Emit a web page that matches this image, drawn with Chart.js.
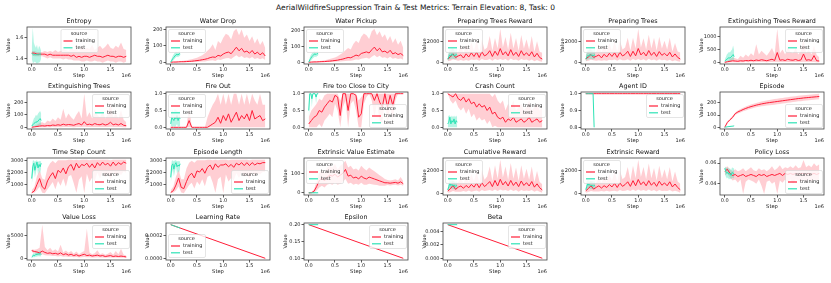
<!DOCTYPE html>
<html>
<head>
<meta charset="utf-8">
<script src="https://cdn.jsdelivr.net/npm/chart.js@4.4.0/dist/chart.umd.min.js"></script>
<style>
  body { margin: 0; background: #fff; width: 831px; height: 283px; overflow: hidden; position: relative; font-family: "DejaVu Sans", sans-serif; }
  #title { position: absolute; left: 0; width: 831px; top: 3px; text-align: center; font-size: 7.5px; color: #111; }
  canvas { position: absolute; }
</style>
</head>
<body>
<div id="title">AerialWildfireSuppression Train &amp; Test Metrics: Terrain Elevation: 8, Task: 0</div>
<script>
// steps are in units of 1e6
const STEPS = [0,0.05,0.1,0.15,0.2,0.25,0.3,0.35,0.4,0.45,0.5,0.55,0.6,0.65,0.7,0.75,0.8,0.85,0.9,0.95,1.0,1.05,1.1,1.15,1.2,1.25,1.3,1.35,1.4,1.45,1.5,1.55,1.6,1.65,1.7,1.75,1.8];
const TEST_STEPS = [0,0.02,0.04,0.06,0.08,0.1,0.12,0.14,0.16,0.18];
const LINE_STEPS = [0, 1.8];
const LINE_TEST_STEPS = [0, 0.18];
const X_TICKS = [0, 0.5, 1.0, 1.5];

// Entropy
const entropyMean = [1.45,1.45,1.44,1.44,1.44,1.44,1.43,1.44,1.43,1.43, 1.43,1.43,1.43,1.43,1.43,1.42,1.43,1.41,1.42,1.41, 1.42,1.42,1.41,1.42,1.43,1.42,1.42,1.41,1.42,1.43, 1.42,1.42,1.41,1.42,1.42,1.41,1.42];
const entropyHi = [1.47,1.47,1.46,1.46,1.46,1.47,1.46,1.47,1.46,1.48, 1.46,1.47,1.49,1.48,1.47,1.50,1.48,1.49,1.47,1.52, 1.48,1.50,1.49,1.53,1.48,1.50,1.52,1.49,1.51,1.54, 1.50,1.49,1.52,1.50,1.55,1.49,1.48];
const entropyLo = [1.43,1.42,1.42,1.42,1.42,1.41,1.40,1.41,1.40,1.40, 1.40,1.40,1.39,1.40,1.39,1.39,1.38,1.38,1.38,1.37, 1.37,1.38,1.37,1.37,1.38,1.37,1.37,1.36,1.37,1.38, 1.37,1.37,1.36,1.37,1.37,1.36,1.37];
const entropyTest = [1.45,1.44,1.43,1.44,1.43,1.44,1.43,1.44,1.44,1.44];
const entropyTestHi = [1.50,1.69,1.55,1.52,1.50,1.53,1.48,1.52,1.50,1.47];
const entropyTestLo = [1.40,1.36,1.36,1.37,1.36,1.35,1.36,1.36,1.37,1.40];

// Water Drop
const waterDropMean = [0,1,1,2,3,3,4,5,6,8, 10,12,15,18,22,28,32,30,42,38, 50,58,62,52,72,92,70,85,62,68, 55,72,50,62,45,58,38];
const waterDropHi = [1,3,4,6,8,9,12,15,18,22, 28,35,42,55,70,85,110,75,130,115, 150,175,165,140,190,205,165,200,150,170, 130,160,115,145,105,130,85];
const waterDropLo = [0,0,0,0,0,0,0,1,1,2, 2,3,4,5,7,10,12,8,16,14, 20,24,26,20,32,42,30,38,26,30, 22,32,20,26,18,24,14];
const waterDropTest = [0,12,22,30,38,45,48,44,52,50];
const waterDropTestHi = [2,25,40,50,58,65,62,60,68,64];
const waterDropTestLo = [0,2,8,15,22,30,34,30,38,36];

// Water Pickup
const waterPickupMean = [0,1,2,2,3,4,4,6,7,9, 11,13,17,20,25,30,28,36,45,40, 55,60,65,58,78,95,72,88,65,70, 58,75,52,60,48,55,42];
const waterPickupHi = [1,3,5,7,8,10,13,16,20,25, 30,38,48,60,75,90,80,115,135,120, 160,180,170,145,195,210,170,195,155,175, 135,165,120,150,110,135,90];
const waterPickupLo = [0,0,0,0,0,0,1,1,2,2, 3,4,5,6,8,10,9,12,17,15, 22,25,28,22,34,45,32,40,28,32, 24,34,22,26,20,24,16];
const waterPickupTest = [0,15,25,35,42,50,52,48,55,52];
const waterPickupTestHi = [2,30,45,55,62,70,68,64,72,66];
const waterPickupTestLo = [0,3,10,18,25,32,36,32,40,38];

// Preparing Trees Reward
const prepRewardMean = [300,500,800,450,600,700,400,800,500,900, 550,950,450,1000,600,750,1100,550,1050,650, 1300,700,1000,600,1200,650,950,550,1100,650, 900,600,1000,500,850,450,300];
const prepRewardHi = [600,1100,1300,900,1000,1500,900,1700,1000,1900, 1100,2100,1000,2200,1200,1400,2500,1100,2300,1300, 3200,1400,2400,1200,2800,1300,2300,1100,2600,1300, 2200,1200,2500,1000,2000,1000,900];
const prepRewardLo = [100,150,250,200,150,200,150,200,150,250, 200,250,150,300,200,200,300,150,300,200, 300,200,300,150,350,200,250,150,300,200, 250,150,250,100,200,100,50];
const prepRewardTest = [300,500,700,600,800,650,700,600,750,650];
const prepRewardTestHi = [600,1000,1300,1200,1400,1200,1300,1100,1300,1200];
const prepRewardTestLo = [100,200,300,250,350,300,300,250,350,300];

// Preparing Trees
const prepTreesMean = [320,520,760,480,580,720,430,780,520,880, 570,930,480,980,620,770,1080,570,1080,630, 1350,720,980,620,1150,680,980,570,1050,680, 880,620,980,520,820,480,320];
const prepTreesHi = [650,1150,1250,950,1050,1550,950,1650,1050,1850, 1150,2050,1050,2150,1250,1450,2400,1150,2400,1350, 3300,1450,2350,1250,2700,1350,2400,1150,2500,1350, 2100,1250,2400,1050,1900,1050,950];
const prepTreesLo = [110,160,240,210,160,210,160,210,160,240, 210,260,160,290,210,210,290,160,310,210, 310,210,290,160,340,210,260,160,290,210, 240,160,240,110,210,110,60];
const prepTreesTest = [320,520,680,620,780,670,720,620,730,670];
const prepTreesTestHi = [620,1050,1280,1220,1380,1220,1280,1120,1280,1220];
const prepTreesTestLo = [110,210,290,260,340,310,290,260,340,310];

// Extinguishing Trees Reward
const extRewardMean = [0,20,40,60,50,40,60,50,70,60, 80,60,90,70,100,80,60,90,120,70, 380,80,100,70,120,90,80,110,70,90, 320,80,100,70,260,60,50];
const extRewardHi = [0,60,120,200,160,120,250,180,300,220, 350,250,700,300,450,350,250,400,550,300, 1300,350,500,300,600,400,350,550,300,450, 900,350,500,300,650,280,200];
const extRewardLo = [0,0,0,5,5,0,5,5,10,5, 10,5,10,10,15,10,5,10,15,10, 20,10,15,10,15,10,10,15,10,15, 20,10,15,10,15,5,5];
const extRewardTest = [50,80,120,150,180,160,200,250,300,220];
const extRewardTestHi = [100,200,300,350,400,380,450,500,650,450];
const extRewardTestLo = [0,10,30,40,50,40,60,80,100,60];

// Extinguishing Trees
const extTreesMean = [0,3,6,10,12,10,14,12,18,15, 20,16,25,18,22,20,16,24,30,18, 45,20,25,18,30,22,20,28,18,24, 40,20,26,18,30,16,12];
const extTreesHi = [0,10,20,35,40,30,55,45,70,50, 80,60,150,70,110,80,60,100,130,70, 270,80,120,70,150,100,80,130,70,100, 200,80,110,70,140,60,40];
const extTreesLo = [0,0,0,1,1,0,1,1,2,1, 2,1,2,2,3,2,1,2,3,2, 4,2,3,2,3,2,2,3,2,3, 4,2,3,2,3,1,1];
const extTreesTest = [10,20,30,35,45,40,50,60,70,55];
const extTreesTestHi = [20,45,70,80,100,90,110,120,130,110];
const extTreesTestLo = [0,2,5,8,10,8,12,15,20,12];

// Fire Out
const fireOutMean = [0,0,0,0,0,0,0,0.2,0,0, 0,0,0,0,0,0.05,0.1,0.15,0.3,0.12, 0.35,0.2,0.4,0.15,0.3,0.45,0.2,0.35,0.25,0.4, 0.2,0.5,0.25,0.3,0.35,0.2,0.25];
const fireOutHi = [0,0,0,0,0,0,0,0.65,0,0, 0,0,0,0,0.3,0.5,0.67,0.8,1.0,0.67, 1.0,0.67,1.0,0.67,1.0,1.0,0.67,1.0,0.67,1.0, 0.67,1.0,0.8,0.67,1.0,0.67,0.67];
const fireOutLo = [0,0,0,0,0,0,0,0,0,0, 0,0,0,0,0,0,0,0,0,0, 0,0,0,0,0,0,0,0,0,0, 0,0,0,0,0,0,0];
const fireOutTest = [0.1,0.3,0.25,0.2,0.3,0.25,0.35,0.2,0.3,0.25];
const fireOutTestHi = [0.3,0.5,0.5,0.45,0.55,0.5,0.5,0.45,0.5,0.45];
const fireOutTestLo = [0,0.05,0,0.05,0,0.05,0.1,0,0.05,0];

// Fire too Close to City
const fireCloseMean = [0.1,0.2,0.3,0.35,0.5,0.45,0.6,0.7,0.8,0.75, 0.95,0.9,0.35,1.0,1.0,0.5,1.0,1.0,0.95,0.3, 0.4,1.0,1.0,1.0,1.0,0.8,1.0,0.75,0.6,1.0, 0.6,0.95,0.65,1.0,1.0,1.0,1.0];
const fireCloseHi = [0.3,0.5,0.6,0.7,0.85,0.8,0.95,1.0,1.0,1.0, 1.0,1.0,0.8,1.0,1.0,1.0,1.0,1.0,1.0,0.8, 0.9,1.0,1.0,1.0,1.0,1.0,1.0,1.0,1.0,1.0, 1.0,1.0,1.0,1.0,1.0,1.0,1.0];
const fireCloseLo = [0,0,0,0,0.1,0,0.2,0.3,0.4,0.3, 0.7,0.5,0,0.6,0.8,0,0.7,0.8,0.5,0, 0,0.7,0.9,1.0,0.8,0.3,0.7,0.2,0.1,0.8, 0.1,0.6,0.2,0.8,1.0,1.0,1.0];
const fireCloseTest = [0.5,1.0,1.0,0.85,1.0,1.0,1.0,0.9,1.0,1.0];
const fireCloseTestHi = [1.0,1.0,1.0,1.0,1.0,1.0,1.0,1.0,1.0,1.0];
const fireCloseTestLo = [0,1.0,1.0,0.6,1.0,1.0,1.0,0.7,1.0,1.0];

// Crash Count
const crashMean = [1.0,0.95,0.9,1.0,0.85,0.8,0.9,0.75,0.85,0.7, 0.75,0.6,0.7,0.6,0.65,0.5,0.6,0.4,0.45,0.3, 0.25,0.3,0.15,0.25,0.2,0.3,0.15,0.2,0.25,0.15, 0.2,0.3,0.15,0.2,0.25,0.15,0.2];
const crashHi = [1.0,1.0,1.0,1.0,1.0,1.0,1.0,1.0,1.0,1.0, 1.0,1.0,1.0,1.0,1.0,1.0,1.0,0.9,1.0,0.8, 0.7,0.8,0.5,0.7,0.6,0.8,0.5,0.6,0.7,0.5, 0.6,0.8,0.5,0.6,0.7,0.5,0.6];
const crashLo = [1.0,0.8,0.7,0.8,0.6,0.5,0.6,0.4,0.55,0.3, 0.4,0.2,0.3,0.2,0.25,0.1,0.2,0,0.05,0, 0,0,0,0,0,0,0,0,0,0, 0,0,0,0,0,0,0];
const crashTest = [0.1,0.15,0.3,0.1,0.2,0.15,0.25,0.1,0.2,0.15];
const crashTestHi = [0.3,0.35,0.35,0.3,0.35,0.3,0.35,0.3,0.35,0.3];
const crashTestLo = [0,0,0,0,0,0,0,0,0,0];

// Agent ID
const agentMean = [1,1,1,1,1,1,1,1,1,1, 1,1,1,1,1,1,1,1,1,1, 1,1,1,1,1,1,1,1,1,1, 1,1,1,1,1,1,1];
const agentTest = [1,1,1,1,1,1,1,1,0.8,null];

// Episode
const episodeMean = [0,40,62,82,112,126,136,146,155,163, 170,176,182,187,192,196,200,203,206,209, 212,215,218,221,224,227,230,233,236,238, 241,243,245,247,249,251,253];
const episodeHi = [0,48,70,92,122,138,150,161,171,180, 187,194,200,206,211,216,220,224,228,232, 235,238,241,244,247,250,253,256,259,261, 264,266,268,270,272,274,276];
const episodeLo = [0,32,54,72,102,114,122,131,139,146, 153,158,164,168,173,176,180,182,184,186, 189,192,195,198,201,204,207,210,213,215, 218,220,222,224,226,228,230];
const episodeTest = [0,2,3,5,6,7,8,9,10,12];
const episodeTestHi = [0,3,4,6,7,8,9,10,11,13];
const episodeTestLo = [0,1,2,4,5,6,7,8,9,11];

// Time Step Count
const timeStepMean = [300,450,1000,1500,800,600,1300,1700,2000,1500, 2200,2000,2400,1900,2500,2700,2200,2800,2400,2700, 2600,2800,2450,2750,2400,2850,2600,2900,2650,2800, 2550,2900,2600,2850,2700,2900,2800];
const timeStepHi = [500,800,1700,2200,1500,1400,2400,2800,3000,2800, 3050,3050,3050,3050,3100,3100,3050,3100,3050,3100, 3100,3100,3050,3100,3100,3100,3100,3100,3100,3100, 3050,3100,3100,3100,3100,3100,3100];
const timeStepLo = [250,300,500,800,300,250,600,900,1200,600, 1300,900,1500,800,1700,1800,1100,300,1400,1700, 250,1900,1200,1600,1300,2000,1500,2100,1600,1900, 1400,2100,1700,2000,1800,2100,2000];
const timeStepTest = [1500,2500,2800,2200,2600,2900,2400,2700,2500,2800];
const timeStepTestHi = [2200,3000,3050,2900,3000,3050,2900,3000,2950,3000];
const timeStepTestLo = [900,1800,2300,1600,2000,2600,1800,2200,1900,2400];

// Episode Length
const epLenMean = [320,480,950,1550,750,650,1250,1750,1950,1550, 2150,2050,2350,1950,2450,2650,2250,2750,2450,2650, 2650,2750,2500,2700,2450,2800,2650,2850,2600,2850, 2600,2850,2650,2800,2750,2850,2850];
const epLenHi = [520,820,1650,2250,1450,1450,2350,2850,3000,2850, 3050,3050,3050,3050,3100,3100,3050,3100,3050,3100, 3100,3100,3050,3100,3100,3100,3100,3100,3100,3100, 3050,3100,3100,3100,3100,3100,3100];
const epLenLo = [250,320,480,850,320,260,620,950,1150,650, 1250,950,1450,850,1650,1750,1150,300,1450,1650, 260,1850,1250,1550,1350,1950,1550,2050,1650,1850, 1450,2050,1750,1950,1850,2050,2050];
const epLenTest = [1600,2600,2750,2300,2700,2850,2500,2650,2550,2750];
const epLenTestHi = [2300,3000,3050,2950,3050,3050,2950,3000,2950,3000];
const epLenTestLo = [1000,1900,2250,1700,2100,2550,1900,2150,2000,2350];

// Extrinsic Value Estimate
const valueEstMean = [-3,-2,5,30,60,75,60,80,90,85, 95,80,90,100,120,85,90,75,80,70, 85,75,70,80,75,70,65,60,55,50, 50,48,50,52,48,55,45];
const valueEstHi = [0,2,15,55,100,120,100,130,140,130, 150,120,140,150,165,130,140,120,125,115, 140,125,115,130,120,110,100,90,80,70, 65,62,65,68,62,80,58];
const valueEstLo = [-5,-5,-3,10,25,35,25,40,45,40, 50,40,45,55,70,45,50,40,45,40, 50,40,40,45,42,40,38,35,35,35, 38,36,38,40,36,40,35];
const valueEstTest = [-2,-3,-2,-3,-2,-3,-2,-3,-2,-3];
const valueEstTestHi = [0,0,0,0,0,0,0,0,0,0];
const valueEstTestLo = [-5,-5,-5,-5,-5,-5,-5,-5,-5,-5];

// Cumulative Reward
const cumRewardMean = [200,400,700,350,550,650,450,700,500,800, 550,900,500,950,600,800,1050,600,1150,650, 1250,750,1050,650,1150,700,1000,600,1100,700, 950,650,1050,550,850,500,300];
const cumRewardHi = [400,800,1200,800,1000,1300,900,1500,1000,1700, 1100,1900,1000,2100,1200,1500,2400,1100,2500,1300, 3000,1400,2400,1200,2700,1300,2300,1100,2500,1300, 2200,1200,2400,1000,2000,1000,800];
const cumRewardLo = [50,100,200,150,150,150,200,150,250,150, 200,250,150,300,200,250,300,200,350,200, 350,250,300,200,350,200,300,150,300,200, 250,200,300,150,250,150,50];
const cumRewardTest = [300,600,900,700,800,650,750,600,700,650];
const cumRewardTestHi = [500,1000,1300,1100,1200,1000,1150,1000,1100,1000];
const cumRewardTestLo = [100,300,500,400,450,350,400,300,400,350];

// Extrinsic Reward
const extrRewardMean = [220,420,680,370,530,670,470,680,520,780, 570,880,520,930,620,780,1030,620,1130,670, 1230,770,1030,670,1130,720,980,620,1080,720, 930,670,1030,570,830,520,320];
const extrRewardHi = [420,850,1150,850,950,1350,950,1450,1050,1650, 1150,1950,1050,2050,1250,1450,2350,1150,2450,1350, 3000,1450,2350,1250,2650,1350,2250,1150,2450,1350, 2150,1250,2350,1050,1950,1050,850];
const extrRewardLo = [60,110,210,160,160,160,210,160,240,160, 210,240,160,290,210,240,290,210,340,210, 340,240,290,210,340,210,290,160,290,210, 240,210,290,160,240,160,60];
const extrRewardTest = [320,620,880,720,780,670,730,620,720,640];
const extrRewardTestHi = [520,1050,1250,1150,1150,1050,1100,1050,1100,1000];
const extrRewardTestLo = [120,320,480,420,430,370,380,320,420,340];

// Policy Loss
const policyMean = [0.052,0.054,0.050,0.048,0.049,0.047,0.048,0.049,0.047,0.048, 0.049,0.048,0.047,0.049,0.048,0.049,0.047,0.048,0.049,0.048, 0.049,0.050,0.048,0.050,0.049,0.050,0.049,0.050,0.049,0.050, 0.050,0.049,0.050,0.049,0.050,0.049,0.050];
const policyHi = [0.055,0.057,0.054,0.052,0.054,0.052,0.053,0.055,0.052,0.054, 0.056,0.053,0.052,0.055,0.053,0.054,0.052,0.054,0.057,0.053, 0.055,0.058,0.054,0.056,0.055,0.057,0.055,0.058,0.055,0.056, 0.063,0.056,0.058,0.056,0.060,0.057,0.059];
const policyLo = [0.048,0.050,0.046,0.043,0.044,0.041,0.044,0.030,0.042,0.044, 0.043,0.042,0.040,0.044,0.038,0.030,0.042,0.043,0.040,0.042, 0.030,0.043,0.041,0.044,0.042,0.044,0.040,0.044,0.043,0.042, 0.044,0.042,0.044,0.042,0.044,0.043,0.044];
const policyTest = [0.055,0.052,0.050,0.051,0.049,0.050,0.048,0.051,0.050,0.050];
const policyTestHi = [0.057,0.056,0.055,0.056,0.054,0.055,0.053,0.056,0.055,0.055];
const policyTestLo = [0.050,0.047,0.045,0.046,0.044,0.045,0.044,0.046,0.045,0.046];

// Value Loss
const valueLossMean = [1700,1500,1400,1200,1600,1300,1100,1200,1000,1100, 900,1200,800,1000,700,900,600,800,500,700, 900,600,700,500,600,700,500,600,400,500, 600,400,500,400,500,400,300];
const valueLossHi = [2000,1900,2000,2300,7400,2500,1800,2300,1600,2000, 1500,3000,1300,1700,1200,1600,1000,1500,900,1300, 1600,6500,1300,900,1100,1800,900,1100,800,1000, 1400,800,1600,900,2100,800,600];
const valueLossLo = [1400,1100,900,700,900,700,600,600,500,500, 400,500,350,400,300,350,250,300,200,250, 300,250,250,200,200,250,200,200,150,200, 200,150,200,150,150,150,100];
const valueLossTest = [300,500,700,600,900,800,1000,900,1100,800];
const valueLossTestHi = [600,900,1200,1000,1400,1300,1500,1400,1800,1200];
const valueLossTestLo = [100,200,300,250,400,350,500,400,500,300];

// Learning Rate, Epsilon, Beta (straight schedules)
const lrTrain = [0.0003, 0.0];
const lrTest = [0.0003, 0.00027];
const epsTrain = [0.2, 0.1];
const epsTest = [0.2, 0.2];
const betaTrain = [0.005, 0.00001];
const betaTest = [0.005, 0.005];

// y tick values / labels
const TICKS_ENTROPY = [1.4, 1.6], LABELS_ENTROPY = ['1.4', '1.6'];
const TICKS_200 = [0, 100, 200], LABELS_200 = ['0', '100', '200'];
const TICKS_2000 = [0, 2000], LABELS_2000 = ['0', '2000'];
const TICKS_1000 = [0, 500, 1000], LABELS_1000 = ['0', '500', '1000'];
const TICKS_UNIT = [0, 0.5, 1.0], LABELS_UNIT = ['0.0', '0.5', '1.0'];
const TICKS_AGENT = [0.8, 0.9, 1.0], LABELS_AGENT = ['0.8', '0.9', '1.0'];
const TICKS_3000 = [1000, 2000, 3000], LABELS_3000 = ['1000', '2000', '3000'];
const TICKS_100 = [0, 100], LABELS_100 = ['0', '100'];
const TICKS_POLICY = [0.04, 0.06], LABELS_POLICY = ['0.04', '0.06'];
const TICKS_5000 = [0, 5000], LABELS_5000 = ['0', '5000'];
const TICKS_LR = [0, 0.0002], LABELS_LR = ['0.0000', '0.0002'];
const TICKS_EPS = [0.10, 0.15, 0.20], LABELS_EPS = ['0.10', '0.15', '0.20'];
const TICKS_BETA = [0, 0.002, 0.004], LABELS_BETA = ['0.000', '0.002', '0.004'];

const CHARTS = [
  {title: 'Entropy', m: entropyMean, lo: entropyLo, hi: entropyHi, t: entropyTest, tlo: entropyTestLo, thi: entropyTestHi, y: [1.347, 1.697], ticks: TICKS_ENTROPY, labels: LABELS_ENTROPY, leg: 'uc'},
  {title: 'Water Drop', m: waterDropMean, lo: waterDropLo, hi: waterDropHi, t: waterDropTest, tlo: waterDropTestLo, thi: waterDropTestHi, y: [-11, 216], ticks: TICKS_200, labels: LABELS_200, leg: 'ul'},
  {title: 'Water Pickup', m: waterPickupMean, lo: waterPickupLo, hi: waterPickupHi, t: waterPickupTest, tlo: waterPickupTestLo, thi: waterPickupTestHi, y: [-11, 221], ticks: TICKS_200, labels: LABELS_200, leg: 'ul'},
  {title: 'Preparing Trees Reward', m: prepRewardMean, lo: prepRewardLo, hi: prepRewardHi, t: prepRewardTest, tlo: prepRewardTestLo, thi: prepRewardTestHi, y: [-170, 3360], ticks: TICKS_2000, labels: LABELS_2000, leg: 'ul'},
  {title: 'Preparing Trees', m: prepTreesMean, lo: prepTreesLo, hi: prepTreesHi, t: prepTreesTest, tlo: prepTreesTestLo, thi: prepTreesTestHi, y: [-170, 3460], ticks: TICKS_2000, labels: LABELS_2000, leg: 'ul'},
  {title: 'Extinguishing Trees Reward', m: extRewardMean, lo: extRewardLo, hi: extRewardHi, t: extRewardTest, tlo: extRewardTestLo, thi: extRewardTestHi, y: [-65, 1365], ticks: TICKS_1000, labels: LABELS_1000, leg: 'ur'},
  {title: 'Extinguishing Trees', m: extTreesMean, lo: extTreesLo, hi: extTreesHi, t: extTreesTest, tlo: extTreesTestLo, thi: extTreesTestHi, y: [-14, 284], ticks: TICKS_200, labels: LABELS_200, leg: 'ur'},
  {title: 'Fire Out', m: fireOutMean, lo: fireOutLo, hi: fireOutHi, t: fireOutTest, tlo: fireOutTestLo, thi: fireOutTestHi, y: [-0.05, 1.05], ticks: TICKS_UNIT, labels: LABELS_UNIT, leg: 'ul'},
  {title: 'Fire too Close to City', m: fireCloseMean, lo: fireCloseLo, hi: fireCloseHi, t: fireCloseTest, tlo: fireCloseTestLo, thi: fireCloseTestHi, y: [-0.05, 1.05], ticks: TICKS_UNIT, labels: LABELS_UNIT, leg: 'lr'},
  {title: 'Crash Count', m: crashMean, lo: crashLo, hi: crashHi, t: crashTest, tlo: crashTestLo, thi: crashTestHi, y: [-0.05, 1.05], ticks: TICKS_UNIT, labels: LABELS_UNIT, leg: 'ur'},
  {title: 'Agent ID', m: agentMean, t: agentTest, y: [0.79, 1.01], ticks: TICKS_AGENT, labels: LABELS_AGENT, leg: 'ur'},
  {title: 'Episode', m: episodeMean, lo: episodeLo, hi: episodeHi, t: episodeTest, tlo: episodeTestLo, thi: episodeTestHi, y: [-14, 290], ticks: TICKS_200, labels: LABELS_200, leg: 'lr'},
  {title: 'Time Step Count', m: timeStepMean, lo: timeStepLo, hi: timeStepHi, t: timeStepTest, tlo: timeStepTestLo, thi: timeStepTestHi, y: [107, 3243], ticks: TICKS_3000, labels: LABELS_3000, leg: 'lr'},
  {title: 'Episode Length', m: epLenMean, lo: epLenLo, hi: epLenHi, t: epLenTest, tlo: epLenTestLo, thi: epLenTestHi, y: [107, 3243], ticks: TICKS_3000, labels: LABELS_3000, leg: 'lr'},
  {title: 'Extrinsic Value Estimate', m: valueEstMean, lo: valueEstLo, hi: valueEstHi, t: valueEstTest, tlo: valueEstTestLo, thi: valueEstTestHi, y: [-14, 180], ticks: TICKS_100, labels: LABELS_100, leg: 'ul'},
  {title: 'Cumulative Reward', m: cumRewardMean, lo: cumRewardLo, hi: cumRewardHi, t: cumRewardTest, tlo: cumRewardTestLo, thi: cumRewardTestHi, y: [-150, 3150], ticks: TICKS_2000, labels: LABELS_2000, leg: 'ul'},
  {title: 'Extrinsic Reward', m: extrRewardMean, lo: extrRewardLo, hi: extrRewardHi, t: extrRewardTest, tlo: extrRewardTestLo, thi: extrRewardTestHi, y: [-150, 3150], ticks: TICKS_2000, labels: LABELS_2000, leg: 'ul'},
  {title: 'Policy Loss', m: policyMean, lo: policyLo, hi: policyHi, t: policyTest, tlo: policyTestLo, thi: policyTestHi, y: [0.029, 0.065], ticks: TICKS_POLICY, labels: LABELS_POLICY, leg: 'lr'},
  {title: 'Value Loss', m: valueLossMean, lo: valueLossLo, hi: valueLossHi, t: valueLossTest, tlo: valueLossTestLo, thi: valueLossTestHi, y: [-370, 7770], ticks: TICKS_5000, labels: LABELS_5000, leg: 'ur'},
  {title: 'Learning Rate', xs: LINE_STEPS, txs: LINE_TEST_STEPS, m: lrTrain, t: lrTest, y: [-0.000015, 0.000315], ticks: TICKS_LR, labels: LABELS_LR, leg: 'ml'},
  {title: 'Epsilon', xs: LINE_STEPS, txs: LINE_TEST_STEPS, m: epsTrain, t: epsTest, y: [0.095, 0.205], ticks: TICKS_EPS, labels: LABELS_EPS, leg: 'ur'},
  {title: 'Beta', xs: LINE_STEPS, txs: LINE_TEST_STEPS, m: betaTrain, t: betaTest, y: [-0.00025, 0.00525], ticks: TICKS_BETA, labels: LABELS_BETA, leg: 'ur'}
];

const RED = '#ff1e38', RED_BAND = 'rgba(255,30,56,0.22)';
const TEAL = '#2de3b5', TEAL_BAND = 'rgba(45,227,181,0.35)';
const FONT = '"DejaVu Sans", sans-serif';
Chart.defaults.font.family = FONT;
Chart.defaults.color = '#222';

function drawLegend(ctx, a, loc) {
  const w = 37, h = 23, pad = 2;
  let x = a.left + pad, y = a.top + pad;
  if (loc[1] === 'r') x = a.right - pad - w;
  if (loc[1] === 'c') x = (a.left + a.right - w) / 2;
  if (loc[0] === 'l') y = a.bottom - pad - h;
  if (loc[0] === 'm') y = a.top + 11;
  ctx.fillStyle = 'rgba(255,255,255,0.8)';
  ctx.strokeStyle = '#d4d4d4';
  ctx.lineWidth = 0.6;
  ctx.beginPath();
  ctx.roundRect(x + 0.5, y + 0.5, w, h, 1.5);
  ctx.fill();
  ctx.stroke();
  ctx.fillStyle = '#222';
  ctx.font = '5px ' + FONT;
  ctx.textBaseline = 'middle';
  ctx.textAlign = 'center';
  ctx.fillText('source', x + w / 2, y + 5);
  ctx.textAlign = 'left';
  [['training', RED], ['test', TEAL]].forEach(([name, col], i) => {
    const ry = y + 12 + i * 6.8;
    ctx.strokeStyle = col;
    ctx.lineWidth = 1.2;
    ctx.beginPath();
    ctx.moveTo(x + 3, ry);
    ctx.lineTo(x + 12, ry);
    ctx.stroke();
    ctx.fillText(name, x + 15, ry);
  });
}

const decor = {
  id: 'decor',
  afterDraw(chart, args, o) {
    const {ctx, chartArea: a} = chart;
    ctx.save();
    ctx.strokeStyle = '#444';
    ctx.lineWidth = 0.8;
    ctx.strokeRect(a.left, a.top, a.width, a.height);
    ctx.fillStyle = '#111';
    ctx.font = '6.4px ' + FONT;
    ctx.textAlign = 'center';
    ctx.textBaseline = 'bottom';
    ctx.fillText(o.title, (a.left + a.right) / 2, a.top - 2.5);
    ctx.font = '5px ' + FONT;
    ctx.textAlign = 'right';
    ctx.textBaseline = 'middle';
    ctx.fillStyle = '#222';
    ctx.fillText('1e6', a.right, a.bottom + 11.5);
    drawLegend(ctx, a, o.leg);
    ctx.restore();
  }
};

const pts = (xs, ys) => ys.map((y, i) => ({x: xs[i], y}));
const line = (data, color, order) => ({data, borderColor: color, borderWidth: 1, pointRadius: 0, fill: false, order, spanGaps: false});
const band = (data, color, fillTo, order) => ({data, borderWidth: 0, borderColor: 'transparent', backgroundColor: color, pointRadius: 0, fill: fillTo, order});

CHARTS.forEach((c, k) => {
  const row = Math.floor(k / 6), col = k % 6;
  const frameLeft = 27 + 138.6 * col, frameTop = 26.5 + 65.6 * row;
  const cv = document.createElement('canvas');
  cv.width = 135; cv.height = 68;
  cv.style.left = Math.round(frameLeft - 27) + 'px';
  cv.style.top = Math.round(frameTop - 12) + 'px';
  document.body.appendChild(cv);

  const xs = c.xs || STEPS, txs = c.txs || TEST_STEPS;
  const datasets = [];
  if (c.lo) {
    datasets.push(band(pts(xs, c.lo), RED_BAND, false, 6));
    datasets.push(band(pts(xs, c.hi), RED_BAND, datasets.length - 1, 5));
  }
  if (c.tlo) {
    datasets.push(band(pts(txs, c.tlo), TEAL_BAND, false, 4));
    datasets.push(band(pts(txs, c.thi), TEAL_BAND, datasets.length - 1, 3));
  }
  datasets.push(line(pts(xs, c.m), RED, 1));
  datasets.push(line(pts(txs, c.t), TEAL, 0));

  new Chart(cv, {
    type: 'line',
    data: {datasets},
    plugins: [decor],
    options: {
      responsive: false,
      animation: false,
      devicePixelRatio: 1,
      layout: {padding: {left: 0, top: 12, right: 4, bottom: 0}},
      plugins: {
        legend: {display: false},
        tooltip: {enabled: false},
        decor: {title: c.title, leg: c.leg}
      },
      scales: {
        x: {
          type: 'linear', min: -0.09, max: 1.89,
          afterBuildTicks: s => { s.ticks = X_TICKS.map(v => ({value: v})); },
          afterFit: s => { s.height = 19; },
          grid: {drawOnChartArea: false, drawTicks: true, tickLength: 2.5, color: '#333', lineWidth: 0.8},
          border: {display: false},
          ticks: {font: {size: 5}, padding: 0.5, maxRotation: 0, autoSkip: false, callback: v => v.toFixed(1)},
          title: {display: true, text: 'Step', font: {size: 5.2}, padding: {top: 0, bottom: 4.5}}
        },
        y: {
          min: c.y[0], max: c.y[1],
          afterBuildTicks: s => { s.ticks = c.ticks.map(v => ({value: v})); },
          afterFit: s => { s.width = 27; },
          grid: {drawOnChartArea: false, drawTicks: true, tickLength: 2.5, color: '#333', lineWidth: 0.8},
          border: {display: false},
          ticks: {font: {size: 5}, padding: 1, autoSkip: false, callback: (v, i) => c.labels[i]},
          title: {display: true, text: 'Value', font: {size: 5.2}, padding: {top: 6, bottom: 0}}
        }
      }
    }
  });
});
</script>
</body>
</html>
